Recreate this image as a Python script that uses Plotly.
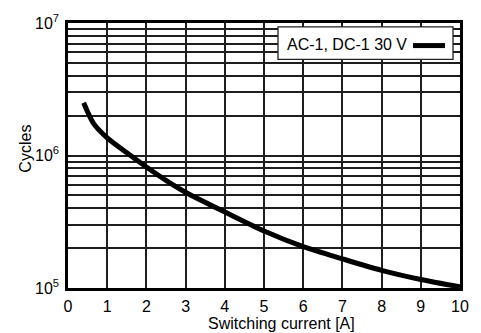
import plotly.graph_objects as go

# Electrical endurance curve: switching current vs. number of cycles
current_a = [0.4, 0.65, 1.0, 1.5, 2.0, 2.5, 3.0, 4.0, 5.0, 6.0, 7.0, 8.0, 9.0, 10.0]
cycles = [2.5e6, 1.75e6, 1.36e6, 1.05e6, 8.2e5, 6.5e5, 5.28e5, 3.74e5, 2.69e5, 2.05e5,
          1.66e5, 1.36e5, 1.16e5, 1.02e5]
series_name = "AC-1, DC-1 30 V"

x_ticks = list(range(0, 11))
y_major = [1e5, 1e6, 1e7]
y_major_text = ["10<sup>5</sup>", "10<sup>6</sup>", "10<sup>7</sup>"]
y_minor = [m * d for d in (1e5, 1e6) for m in range(2, 10)]

FONT = "Liberation Sans, Arial, Helvetica, sans-serif"
W, H = 481, 333
L, R, T, B = 68, 21, 18, 45
GRID = "#1e1e1e"


def px_to_paper(px, py):
    return (px - L) / (W - L - R), (H - B - py) / (H - T - B)


fig = go.Figure()
fig.add_trace(go.Scatter(
    x=current_a, y=cycles, mode="lines", name=series_name,
    line=dict(color="black", width=5, shape="spline", smoothing=0.8),
    showlegend=False,
))

# Legend box with the line sample to the right of the label
bx0, by0 = px_to_paper(278, 55)
bx1, by1 = px_to_paper(453, 22)
fig.add_shape(type="rect", xref="paper", yref="paper", x0=bx0, y0=by0, x1=bx1, y1=by1,
              line=dict(color="#222", width=1.3), fillcolor="white", layer="above")
lx0, ly = px_to_paper(413, 41)
lx1, _ = px_to_paper(445, 41)
fig.add_shape(type="line", xref="paper", yref="paper", x0=lx0, y0=ly, x1=lx1, y1=ly,
              line=dict(color="black", width=5), layer="above")
tx, ty = px_to_paper(285, 39.5)
fig.add_annotation(xref="paper", yref="paper", x=tx, y=ty, xanchor="left", yanchor="middle",
                   text=series_name, showarrow=False, font=dict(family=FONT, size=16, color="black"))

# Axis titles
ax, ay = px_to_paper(281, 324)
fig.add_annotation(xref="paper", yref="paper", x=ax, y=ay, xanchor="center", yanchor="middle",
                   text="Switching current [A]", showarrow=False,
                   font=dict(family=FONT, size=16, color="black"))
cx, cy = px_to_paper(26, 146)
fig.add_annotation(xref="paper", yref="paper", x=cx, y=cy, xanchor="center", yanchor="middle",
                   text="Cycles", textangle=-90, showarrow=False,
                   font=dict(family=FONT, size=16, color="black"))

fig.update_xaxes(
    range=[0, 10], tickvals=x_ticks, ticktext=[str(v) for v in x_ticks],
    showgrid=True, gridcolor=GRID, gridwidth=1.5, zeroline=False,
    showline=True, linecolor="black", linewidth=2.5, mirror=True,
    ticks="outside", ticklen=2, tickcolor="rgba(0,0,0,0)",
    tickfont=dict(family=FONT, size=16, color="black"),
)
fig.update_yaxes(
    type="log", range=[5, 7], tickvals=y_major, ticktext=y_major_text,
    showgrid=True, gridcolor=GRID, gridwidth=1.5, zeroline=False,
    showline=True, linecolor="black", linewidth=2.5, mirror=True,
    ticks="outside", ticklen=3, tickcolor="rgba(0,0,0,0)",
    tickfont=dict(family=FONT, size=16, color="black"),
    minor=dict(tickmode="array", tickvals=y_minor, showgrid=True,
               gridcolor=GRID, gridwidth=1.5, ticks=""),
)
fig.update_layout(
    width=W, height=H, margin=dict(l=L, r=R, t=T, b=B),
    paper_bgcolor="white", plot_bgcolor="white",
)
fig.write_html("out.html")
